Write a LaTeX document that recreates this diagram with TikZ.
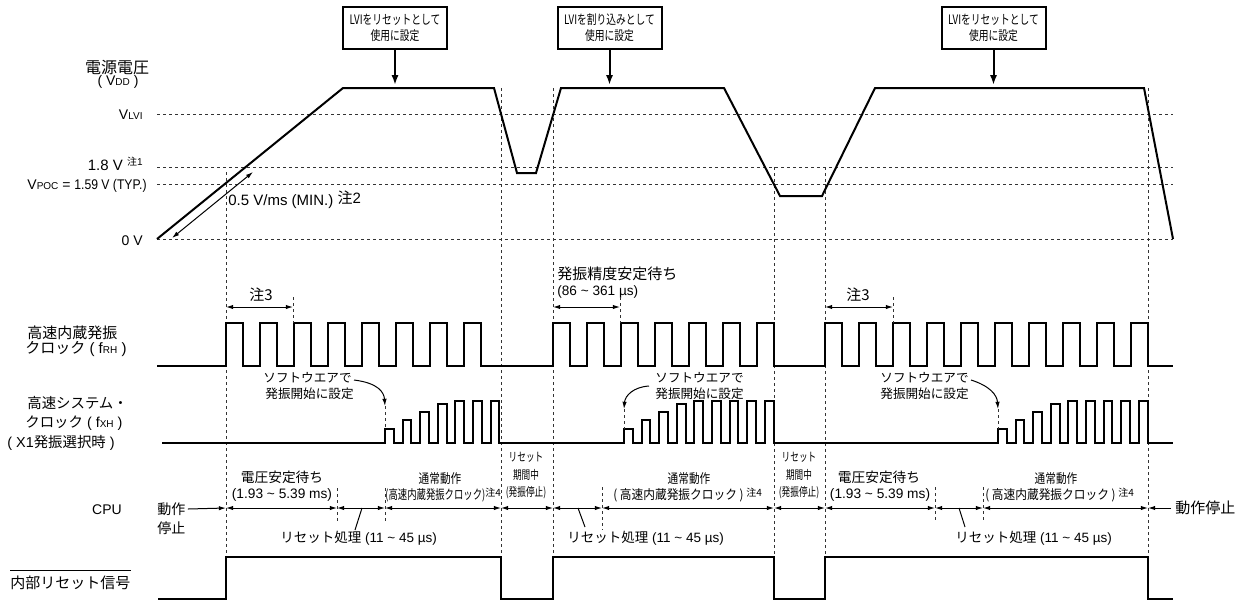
\documentclass[tikz,border=0pt]{standalone}
\usepackage{fontspec}
\usepackage{graphicx}
\setmainfont{Liberation Sans}
\newfontfamily\jp{Noto Sans CJK JP}
\usetikzlibrary{arrows.meta}
\newcommand\sbs[1]{{\fontsize{5}{6}\selectfont #1}}
\newcommand\nt[1]{\raisebox{0.55ex}{\fontsize{5}{6}\selectfont{\jp 注}#1}}
\newcommand\cnd[2]{\scalebox{#1}[1]{#2}}
\newcommand\mytilde{\textasciitilde}
\begin{document}
\begin{tikzpicture}[x=0.5pt,y=-0.5pt,
  sig/.style={line width=1pt, line join=miter},
  gl/.style={line width=0.45pt, dash pattern=on 1.6pt off 1.4pt, black!80},
  thinl/.style={line width=0.5pt},
  tipst/.style={line width=0.5pt,-{Latex[length=3.6pt,width=2.2pt]}},
  dbl/.style={line width=0.5pt,{Latex[length=3.6pt,width=2.2pt]}-{Latex[length=3.6pt,width=2.2pt]}},
  txt/.style={inner sep=0pt, font=\fontsize{7}{8.5}\selectfont},
  jtxt/.style={inner sep=0pt, font=\fontsize{7.5}{9}\selectfont\jp},
  boxst/.style={draw, line width=1pt, minimum width=52pt, minimum height=21pt, inner sep=0pt, align=center, font=\fontsize{6.5}{8}\selectfont\jp},
  barr/.style={line width=1pt, -{Latex[length=5pt,width=3.6pt]}},
]
\useasboundingbox (0,0) rectangle (1246,601);

% ---------- horizontal dashed reference lines
\foreach \yy in {114,167,184,239} \draw[gl] (157,\yy) -- (1173,\yy);
% ---------- vertical dashed lines
\draw[gl] (226,172) -- (226,557);
\draw[gl] (501,88) -- (501,557);
\draw[gl] (553,88) -- (553,557);
\draw[gl] (774,167) -- (774,557);
\draw[gl] (825,167) -- (825,557);
\draw[gl] (1148,88) -- (1148,557);

% ---------- boxes
\node[boxst] (b1) at (395,28) {\cnd{0.75}{LVIをリセットとして}\\\cnd{0.75}{使用に設定}};
\node[boxst] (b2) at (609.5,28) {\cnd{0.75}{LVIを割り込みとして}\\\cnd{0.75}{使用に設定}};
\node[boxst] (b3) at (993.5,28) {\cnd{0.75}{LVIをリセットとして}\\\cnd{0.75}{使用に設定}};
\coordinate (a1) at (395,85);
\coordinate (a2) at (609.5,85);
\coordinate (a3) at (993.5,85);
\draw[barr] (b1.south) -- (a1);
\draw[barr] (b2.south) -- (a2);
\draw[barr] (b3.south) -- (a3);

% ---------- VDD waveform
\draw[sig] (157,239) -- (343,88) -- (494,88) -- (517,173) -- (536,173) -- (561,88)
  -- (724,88) -- (780,196) -- (822,196) -- (875,88) -- (1144,88) -- (1173,239);
\coordinate (s1) at (172,238);
\coordinate (s2) at (253,172);
\draw[dbl] (s1) -- (s2);
\node[txt, anchor=west, font=\fontsize{7.5}{9}\selectfont] (slope) at (228,200) {0.5 V/ms (MIN.) \raisebox{1.2pt}{{\jp 注}2}};

% ---------- left labels, VDD
\node[inner sep=0pt, font=\fontsize{8}{9}\selectfont\jp] (vddj) at (117,67) {電源電圧};
\node[txt] (vdd) at (118,82) {( V\sbs{DD} )};
\node[txt, anchor=base east] (vlvi) at (143,119) {V\sbs{LVI}};
\node[txt, anchor=base east, font=\fontsize{7.5}{9}\selectfont] (v18) at (143,170) {1.8 V \nt{1}};
\node[txt, anchor=base east] (vpoc) at (147,189) {V\sbs{POC} = \cnd{0.87}{1.59 V (TYP.)}};
\node[txt, anchor=base east] (v0) at (143,245) {0 V};

% ---------- fRH
\node[jtxt, anchor=west] (frh1) at (27,333) {高速内蔵発振};
\node[txt, anchor=west, font=\fontsize{7.5}{9}\selectfont] (frh2) at (25,349) {{\jp クロック} ( f\sbs{RH} )};
\draw[sig] (157,366) -- (226,366)
  \foreach \k in {0,...,7}{ -- ({226+34*\k},366) -- ({226+34*\k},323) -- ({243+34*\k},323) -- ({243+34*\k},366) }
  -- (553,366)
  \foreach \k in {0,...,6}{ -- ({553+34*\k},366) -- ({553+34*\k},323) -- ({570+34*\k},323) -- ({570+34*\k},366) }
  -- (825,366)
  \foreach \k in {0,...,9}{ -- ({825+34*\k},366) -- ({825+34*\k},323) -- ({842+34*\k},323) -- ({842+34*\k},366) }
  -- (1173,366);

% notes above fRH
\node[jtxt] (n3a) at (261,295) {注3};
\coordinate (n3a1) at (226,307); \coordinate (n3a2) at (293,307);
\draw[dbl] (n3a1) -- (n3a2);
\draw[gl] (293,297) -- (293,323);
\node[jtxt] (n3b) at (858,295) {注3};
\coordinate (n3b1) at (825,307); \coordinate (n3b2) at (893,307);
\draw[dbl] (n3b1) -- (n3b2);
\draw[gl] (893,297) -- (893,323);
\node[jtxt, anchor=west] (osc1) at (557,274) {発振精度安定待ち};
\node[txt, anchor=west, font=\fontsize{6.8}{8}\selectfont] (osc2) at (557,292) {(86 \mytilde{} 361 µs)};
\coordinate (o1) at (553,307); \coordinate (o2) at (620,307);
\draw[dbl] (o1) -- (o2);
\draw[gl] (620,297) -- (620,323);

% ---------- fXH
\node[inner sep=0pt, font=\fontsize{7.2}{9}\selectfont\jp, anchor=west] (fxh1) at (27,403) {高速システム・};
\node[txt, anchor=west, font=\fontsize{7.2}{9}\selectfont] (fxh2) at (25,423) {{\jp クロック} ( f\sbs{XH} )};
\node[txt, anchor=west, font=\fontsize{7.2}{9}\selectfont] (fxh3) at (7,443) {( X1{\jp 発振選択時} )};
\draw[sig] (162,443) -- (385,443)
  \foreach \h [count=\k from 0] in {429,420,412,404,401,401,401}{ -- ({385+17.6*\k},443) -- ({385+17.6*\k},\h) -- ({393.8+17.6*\k},\h) -- ({393.8+17.6*\k},443) }
  -- (624,443)
  \foreach \h [count=\k from 0] in {429,420,412,404,401,401,401,401,401}{ -- ({624+17.6*\k},443) -- ({624+17.6*\k},\h) -- ({632.8+17.6*\k},\h) -- ({632.8+17.6*\k},443) }
  -- (998,443)
  \foreach \h [count=\k from 0] in {429,420,412,404,401,401,401,401,401}{ -- ({998+17.6*\k},443) -- ({998+17.6*\k},\h) -- ({1006.8+17.6*\k},\h) -- ({1006.8+17.6*\k},443) }
  -- (1173,443);

% software notes
\node[inner sep=0pt, font=\fontsize{6.3}{8}\selectfont\jp, anchor=west] (sw1a) at (263,378) {ソフトウエアで};
\node[inner sep=0pt, font=\fontsize{6.3}{8}\selectfont\jp, anchor=west] (sw1b) at (265,394) {発振開始に設定};
\node[inner sep=0pt, font=\fontsize{6.3}{8}\selectfont\jp, anchor=west] (sw2a) at (655,378) {ソフトウエアで};
\node[inner sep=0pt, font=\fontsize{6.3}{8}\selectfont\jp, anchor=west] (sw2b) at (655,394) {発振開始に設定};
\node[inner sep=0pt, font=\fontsize{6.3}{8}\selectfont\jp, anchor=west] (sw3a) at (880,378) {ソフトウエアで};
\node[inner sep=0pt, font=\fontsize{6.3}{8}\selectfont\jp, anchor=west] (sw3b) at (880,394) {発振開始に設定};
\coordinate (e1) at (385,406); \coordinate (e2) at (624,409); \coordinate (e3) at (998,409);
\draw[tipst] ([xshift=1pt,yshift=-1pt]sw1a.east) .. controls (378,383) and (384,392) .. (e1);
\draw[tipst] (649,386) .. controls (633,387) and (625,396) .. (e2);
\draw[tipst] ([xshift=1pt,yshift=-1pt]sw3a.east) .. controls (990,386) and (997,395) .. (e3);
\draw[gl] (e1) -- (385,429);
\draw[gl] (e2) -- (624,429);
\draw[gl] (e3) -- (998,429);

% ---------- CPU
\node[txt] (cpu) at (107,510) {CPU};
\node[inner sep=0pt, font=\fontsize{7}{8}\selectfont\jp, anchor=west] (op1) at (157,509) {動作};
\node[inner sep=0pt, font=\fontsize{7}{8}\selectfont\jp, anchor=west] (op1b) at (157,528) {停止};
\node[inner sep=0pt, font=\fontsize{7.5}{8}\selectfont\jp, anchor=west] (op2) at (1175,508) {動作停止};
\foreach \n/\xx in {c1/226,c2/337,c3/385,c4/501,c5/553,c6/602,c7/774,c8/825,c9/935,c10/983,c11/1148}
  \coordinate (\n) at (\xx,508);
\draw[tipst] ([xshift=1pt]op1.east) -- (c1);
\draw[dbl] (c1) -- (c2);
\draw[dbl] (c2) -- (c3);
\draw[dbl] (c3) -- (c4);
\draw[dbl] (c4) -- (c5);
\draw[dbl] (c5) -- (c6);
\draw[dbl] (c6) -- (c7);
\draw[dbl] (c7) -- (c8);
\draw[dbl] (c8) -- (c9);
\draw[dbl] (c9) -- (c10);
\draw[dbl] (c10) -- (c11);
\draw[tipst] ([xshift=-2pt]op2.west) -- (c11);
\draw[gl] (337,488) -- (337,521);
\draw[gl] (385,488) -- (385,521);
\draw[gl] (602,487) -- (602,530);
\draw[gl] (935,487) -- (935,522);
\draw[gl] (983,487) -- (983,522);

% texts in CPU row
\node[inner sep=0pt, font=\fontsize{6.85}{8}\selectfont\jp] (w1) at (282,477) {電圧安定待ち};
\node[inner sep=0pt, font=\fontsize{6.85}{8}\selectfont] (w1b) at (282,495) {(1.93 \mytilde{} 5.39 ms)};
\node[inner sep=0pt, font=\fontsize{6.85}{8}\selectfont\jp] (w3) at (879,477) {電圧安定待ち};
\node[inner sep=0pt, font=\fontsize{6.85}{8}\selectfont] (w3b) at (880,495) {(1.93 \mytilde{} 5.39 ms)};

\node[inner sep=0pt, font=\fontsize{6.5}{8}\selectfont\jp] (n1) at (440,479) {\cnd{0.82}{通常動作}};
\node[inner sep=0pt, font=\fontsize{6.5}{8}\selectfont\jp, anchor=west] (n1b) at (385,495) {\cnd{0.72}{(高速内蔵発振クロック)}\nt{4}};
\node[inner sep=0pt, font=\fontsize{6.5}{8}\selectfont\jp] (n2) at (689,479) {\cnd{0.82}{通常動作}};
\node[inner sep=0pt, font=\fontsize{6.5}{8}\selectfont\jp, anchor=west] (n2b) at (613,495) {\cnd{0.9}{( 高速内蔵発振クロック )} \nt{4}};
\node[inner sep=0pt, font=\fontsize{6.5}{8}\selectfont\jp] (n3) at (1056,479) {\cnd{0.82}{通常動作}};
\node[inner sep=0pt, font=\fontsize{6.5}{8}\selectfont\jp, anchor=west] (n3b) at (985,495) {\cnd{0.9}{( 高速内蔵発振クロック )} \nt{4}};

\node[inner sep=0pt, align=center, font=\fontsize{6}{8.75}\selectfont\jp] (r1) at (526,476) {\cnd{0.72}{リセット}\\\cnd{0.72}{期間中}\\\cnd{0.72}{(発振停止)}};
\node[inner sep=0pt, align=center, font=\fontsize{6}{8.75}\selectfont\jp] (r2) at (799,476) {\cnd{0.72}{リセット}\\\cnd{0.72}{期間中}\\\cnd{0.72}{(発振停止)}};

\node[inner sep=0pt, font=\fontsize{6.75}{8}\selectfont, anchor=west] (rp1) at (280,538) {{\jp リセット処理} (11 \mytilde{} 45 µs)};
\node[inner sep=0pt, font=\fontsize{6.75}{8}\selectfont, anchor=west] (rp2) at (567,538) {{\jp リセット処理} (11 \mytilde{} 45 µs)};
\node[inner sep=0pt, font=\fontsize{6.75}{8}\selectfont, anchor=west] (rp3) at (955,538) {{\jp リセット処理} (11 \mytilde{} 45 µs)};
\coordinate (l1) at (362,508); \coordinate (l2) at (578,508); \coordinate (l3) at (959,508);
\draw[thinl] (355,530) -- (l1);
\draw[thinl] (585,527) -- (l2);
\draw[thinl] (965,527) -- (l3);

% ---------- internal reset
\node[jtxt, anchor=west] (rst) at (10,583) {内部リセット信号};
\draw[line width=0.6pt] ([yshift=2.5pt]rst.north west) -- ([yshift=2.5pt]rst.north east);
\draw[sig] (158,599) -- (226,599) -- (226,557) -- (501,557) -- (501,599) -- (553,599)
  -- (553,557) -- (774,557) -- (774,599) -- (825,599) -- (825,557) -- (1148,557)
  -- (1148,599) -- (1173,599);
\end{tikzpicture}
\end{document}
